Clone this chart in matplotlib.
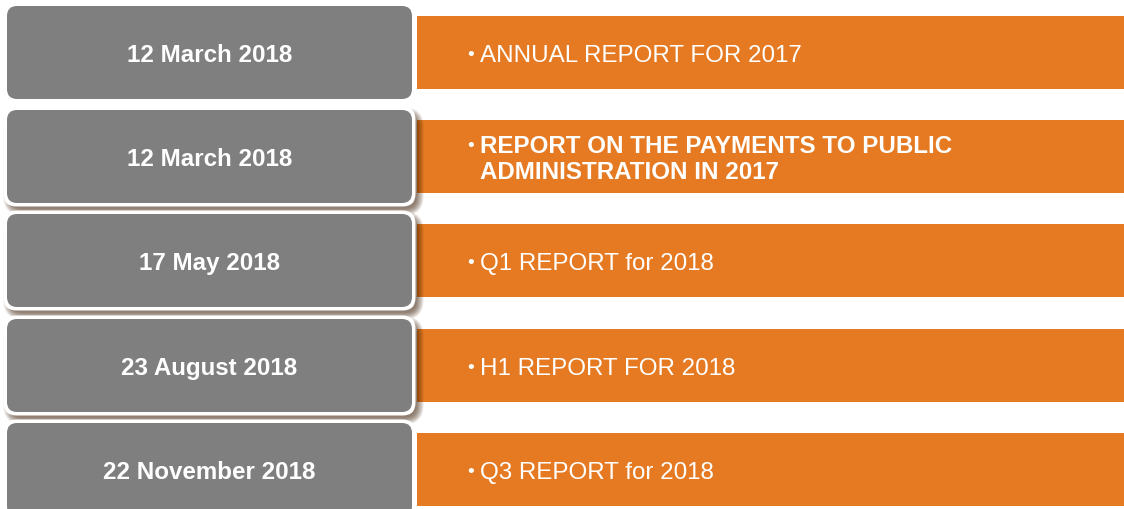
import matplotlib
matplotlib.use("Agg")
import matplotlib.pyplot as plt
from matplotlib.patches import FancyBboxPatch, Rectangle

# ---- data ----
dates = ["12 March 2018", "12 March 2018", "17 May 2018", "23 August 2018", "22 November 2018"]
reports = ["ANNUAL REPORT FOR 2017",
           "REPORT ON THE PAYMENTS TO PUBLIC\nADMINISTRATION IN 2017",
           "Q1 REPORT for 2018",
           "H1 REPORT FOR 2018",
           "Q3 REPORT for 2018"]
report_bold = [False, True, False, False, False]

# ---- styles ----
has_border = [False, True, True, True, True]
has_shadow = [False, True, True, True, False]
GRAY = "#7F7F7F"
ORANGE = "#E57A22"
FONT = "Liberation Sans"

W, H = 1124, 510
fig = plt.figure(figsize=(W / 100, H / 100), dpi=100)
ax = fig.add_axes([0, 0, 1, 1])
ax.set_xlim(0, W)
ax.set_ylim(H, 0)
ax.axis("off")

row_tops = [7, 111, 215, 320, 424]
box_x0, box_x1, box_h = 7, 412, 93
bar_x0, bar_h, bar_off = 417, 73, 10
fs = 17.4
cap_half = 8.6
line_gap = 26
bfs = 14  # bullet font size

# orange bars
for i, rep in enumerate(reports):
    top = row_tops[i]
    ax.add_patch(Rectangle((bar_x0, top + bar_off), W - bar_x0, bar_h,
                           facecolor=ORANGE, edgecolor="none", zorder=1))
    lines = rep.split("\n")
    cy = top + box_h / 2
    first = cy - (len(lines) - 1) * line_gap / 2
    for j, ln in enumerate(lines):
        y = first + j * line_gap
        if j == 0:
            ax.text(470.5, y + 0.36 * bfs * 100 / 72, "•", color="white", fontsize=bfs,
                    ha="center", va="baseline", family=FONT, zorder=5)
        ax.text(479.5, y + cap_half, ln, color="white", fontsize=fs,
                fontweight="bold" if report_bold[i] else "normal",
                ha="left", va="baseline", family=FONT, zorder=5)

# gray boxes
for i, d in enumerate(dates):
    top = row_tops[i]
    z = 2 + i * 0.1
    if has_shadow[i]:
        for k in range(10):
            ax.add_patch(FancyBboxPatch((box_x0 + 4, top + 5), box_x1 - box_x0, box_h,
                                        boxstyle=f"round,pad={0.5 + k * 0.8},rounding_size={11 + k}",
                                        facecolor="#3a1a00", edgecolor="none",
                                        alpha=0.075, zorder=z))
    if has_border[i]:
        ax.add_patch(FancyBboxPatch((box_x0, top), box_x1 - box_x0, box_h,
                                    boxstyle="round,pad=3.5,rounding_size=13",
                                    facecolor="white", edgecolor="none", zorder=z + 0.01))
    ax.add_patch(FancyBboxPatch((box_x0, top), box_x1 - box_x0, box_h,
                                boxstyle="round,pad=0,rounding_size=10",
                                facecolor=GRAY, edgecolor="none", zorder=z + 0.02))
    ax.text((box_x0 + box_x1) / 2, top + box_h / 2 + cap_half, d, color="white",
            fontsize=fs, fontweight="bold", ha="center", va="baseline",
            family=FONT, zorder=5)

fig.savefig("out.png", dpi=100)
